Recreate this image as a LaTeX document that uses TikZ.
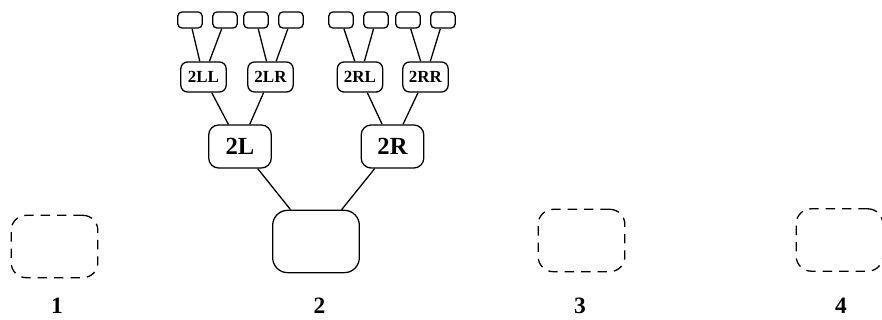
\documentclass[tikz,border=0pt]{standalone}
\usepackage{fontspec}
\setmainfont{Liberation Serif}
\usetikzlibrary{positioning}

\begin{document}
\begin{tikzpicture}[x=0.03cm, y=-0.03cm, line width=1.1pt,
  box/.style={draw, rounded corners=0.45cm, inner sep=0pt,
              minimum width=2.6cm, minimum height=1.87cm},
  ghost/.style={box, dash pattern=on 8pt off 6pt},
  half/.style={draw, rounded corners=0.3cm, inner sep=0pt,
               minimum width=1.88cm, minimum height=1.29cm,
               font=\fontsize{21}{24}\selectfont\bfseries},
  quarter/.style={draw, rounded corners=0.2cm, inner sep=0pt,
                  minimum width=1.36cm, minimum height=0.9cm,
                  font=\fontsize{14.5}{16}\selectfont\bfseries},
  leaf/.style={draw, rounded corners=0.12cm, inner sep=0pt,
               minimum width=0.73cm, minimum height=0.48cm},
  num/.style={font=\fontsize{20}{24}\selectfont\bfseries}]
  \useasboundingbox (0,0) rectangle (882,320);
  % the four stages
  \node[ghost] (s1) at (54.5,246.5) {};
  \node[box]   (s2) at (316,241.5) {};
  \node[ghost] (s3) at (581.5,240.5) {};
  \node[ghost] (s4) at (839.5,240) {};
  \foreach \i/\x in {1/57, 2/319.5, 3/580, 4/841}
    \node[num] (n\i) at (\x,306) {\i};
  % tree above stage 2
  \node[half] (l) at (240,146.5) {2L};
  \node[half] (r) at (392.5,146.5) {2R};
  \node[quarter] (ll) at (203.5,77) {2LL};
  \node[quarter] (lr) at (270.5,77) {2LR};
  \node[quarter] (rl) at (360,77) {2RL};
  \node[quarter] (rr) at (425.5,77) {2RR};
  \draw (l) -- (s2);
  \draw (r) -- (s2);
  \draw (ll) -- (l);
  \draw (lr) -- (l);
  \draw (rl) -- (r);
  \draw (rr) -- (r);
  \foreach \p/\a/\b in {ll/190/225, lr/256/291, rl/341/376, rr/408/443} {
    \node[leaf] (\p a) at (\a,20) {};
    \node[leaf] (\p b) at (\b,20) {};
    \draw (\p a) -- (\p);
    \draw (\p b) -- (\p);
  }
\end{tikzpicture}
\end{document}
